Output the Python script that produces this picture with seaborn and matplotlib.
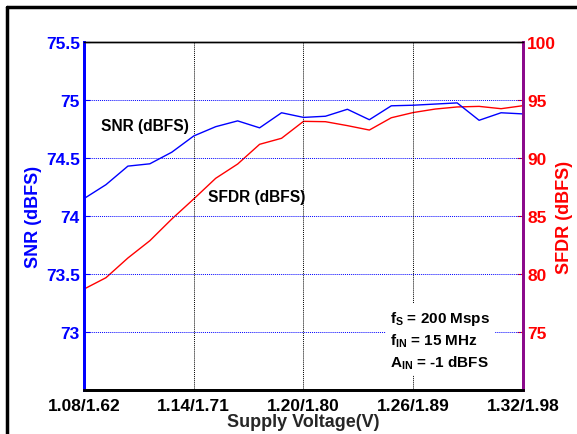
import matplotlib
matplotlib.use("Agg")
import matplotlib.pyplot as plt
from matplotlib.lines import Line2D
import numpy as np
import pandas as pd
import seaborn as sns

# Supply voltage sweep (core / IO), 21 points
voltage = [1.080, 1.092, 1.104, 1.116, 1.128, 1.140, 1.152, 1.164, 1.176, 1.188,
           1.200, 1.212, 1.224, 1.236, 1.248, 1.260, 1.272, 1.284, 1.296, 1.308, 1.320]
snr_dbfs = [74.15, 74.27, 74.43, 74.45, 74.55, 74.69, 74.77, 74.82, 74.76, 74.89,
            74.85, 74.86, 74.92, 74.83, 74.95, 74.955, 74.965, 74.975, 74.825, 74.89, 74.88]
sfdr_dbfs = [78.70, 79.68, 81.38, 82.87, 84.74, 86.47, 88.25, 89.48, 91.18, 91.70,
             93.16, 93.13, 92.79, 92.41, 93.47, 93.92, 94.22, 94.40, 94.45, 94.25, 94.51]
xtick_vals = [1.08, 1.14, 1.20, 1.26, 1.32]
xtick_labels = ["1.08/1.62", "1.14/1.71", "1.20/1.80", "1.26/1.89", "1.32/1.98"]
snr_ticks = [73, 73.5, 74, 74.5, 75, 75.5]
sfdr_ticks = [75, 80, 85, 90, 95, 100]

sns.set_style("white")
plt.rcParams["font.family"] = ["Liberation Sans", "DejaVu Sans"]
plt.rcParams["font.weight"] = "bold"
plt.rcParams["mathtext.fontset"] = "custom"
plt.rcParams["mathtext.rm"] = "Liberation Sans:bold"
plt.rcParams["mathtext.bf"] = "Liberation Sans:bold"
plt.rcParams["mathtext.default"] = "bf"

df = pd.DataFrame({"v": voltage, "snr": snr_dbfs, "sfdr": sfdr_dbfs})

fig = plt.figure(figsize=(5.77, 4.35), dpi=100)
ax = fig.add_axes([84 / 577, 1 - 391 / 435, (523 - 84) / 577, (391 - 43) / 435])
ax2 = ax.twinx()

BLUE = "#0000ff"
RED = "#ff0000"
PURPLE = "#8b0a8b"

sns.lineplot(data=df, x="v", y="snr", ax=ax, color=BLUE, lw=1.0)
sns.lineplot(data=df, x="v", y="sfdr", ax=ax2, color=RED, lw=1.0)

ax.set_xlim(1.08, 1.32)
ax.set_ylim(72.5, 75.5)
ax2.set_ylim(70, 100)
ax.set_xticks(xtick_vals)
ax.set_xticklabels(xtick_labels)
ax.set_yticks(snr_ticks)
ax.set_yticklabels(["73", "73.5", "74", "74.5", "75", "75.5"])
ax2.set_yticks(sfdr_ticks)

# grid: blue dotted horizontals, black dotted verticals
for yv in snr_ticks[:-1]:
    ax.axhline(yv, color=BLUE, ls=(0, (1, 1)), lw=0.7, zorder=0.5)
for xv in xtick_vals[1:-1]:
    ax.axvline(xv, color="black", ls=(0, (1, 1)), lw=0.7, zorder=0.5)

ax.tick_params(axis="x", direction="in", length=4, pad=6, labelsize=12.5, colors="black")
ax.tick_params(axis="y", direction="in", length=4, pad=3, labelsize=12.5,
               colors=BLUE, labelcolor=BLUE)
ax2.tick_params(axis="y", direction="in", length=4, pad=3, labelsize=12.5,
                colors=RED, labelcolor=RED)
for lab in ax.get_xticklabels() + ax.get_yticklabels() + ax2.get_yticklabels():
    lab.set_fontweight("bold")

ax.set_xlabel("Supply Voltage(V)", fontsize=13, fontweight="bold", labelpad=0)
ax.set_ylabel("SNR (dBFS)", fontsize=13, fontweight="bold", color=BLUE, labelpad=3)
ax2.set_ylabel("SFDR (dBFS)", fontsize=13, fontweight="bold", color=RED, labelpad=0)

for a in (ax, ax2):
    a.spines["top"].set_color("black")
    a.spines["top"].set_linewidth(1.0)
    a.spines["bottom"].set_color("black")
    a.spines["bottom"].set_linewidth(2.0)
    a.spines["left"].set_color(BLUE)
    a.spines["left"].set_linewidth(2.0)
    a.spines["right"].set_color(PURPLE)
    a.spines["right"].set_linewidth(2.0)

ax.text(1.1133, 74.784, "SNR (dBFS)", fontsize=11.2, fontweight="bold",
        ha="center", va="center", color="black")
ax.text(1.1744, 74.164, "SFDR (dBFS)", fontsize=11.2, fontweight="bold",
        ha="center", va="center", color="black")
ax.text(1.2475, 72.93,
        "f$_{S}$ = 200 Msps\nf$_{IN}$ = 15 MHz\nA$_{IN}$ = -1 dBFS",
        fontsize=11, fontweight="bold", ha="left", va="center", color="black",
        linespacing=1.35, zorder=5,
        bbox=dict(facecolor="white", edgecolor="none", pad=3))

ax.set_zorder(ax2.get_zorder() + 1)
ax.patch.set_visible(False)

# outer frame
fig.add_artist(Line2D([7 / 577, 7 / 577], [0, 1 - 8 / 435], color="black", lw=2.5,
                      transform=fig.transFigure))
fig.add_artist(Line2D([7 / 577, 1.0], [1 - 8 / 435, 1 - 8 / 435], color="black", lw=2.5,
                      transform=fig.transFigure))

fig.savefig("out.png", dpi=100)
